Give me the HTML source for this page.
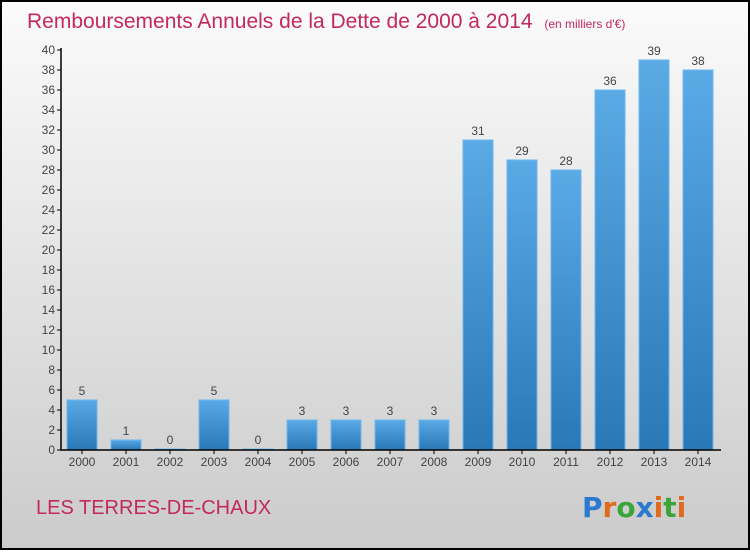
<!DOCTYPE html>
<html><head><meta charset="utf-8">
<style>
html,body{margin:0;padding:0}
body{width:750px;height:550px;overflow:hidden;font-family:"Liberation Sans",sans-serif}
</style></head>
<body>
<svg id="chart" width="750" height="550" xmlns="http://www.w3.org/2000/svg">
<defs>
<linearGradient id="bg" x1="0" y1="0" x2="0" y2="1">
<stop offset="0" stop-color="#fbfbfb"/><stop offset="1" stop-color="#cbcbcb"/>
</linearGradient>
<linearGradient id="bar" x1="0" y1="0" x2="0" y2="1">
<stop offset="0" stop-color="#5aaae6"/><stop offset="1" stop-color="#2a78b6"/>
</linearGradient>
</defs>
<rect x="1" y="1" width="748" height="548" fill="url(#bg)" stroke="#000" stroke-width="2"/>
<text x="27" y="28" font-size="21" fill="#c4285c">Remboursements Annuels de la Dette de 2000 à 2014 <tspan font-size="12" dx="6">(en milliers d'€)</tspan></text>
<text x="36" y="514" font-size="20" fill="#c4285c">LES TERRES-DE-CHAUX</text>
<g font-size="28" font-weight="bold" font-family="'DejaVu Sans',sans-serif">
<text x="582" y="517"><tspan fill="#2a7bd0">P</tspan><tspan fill="#e06a1c">r</tspan><tspan fill="#3aa53a">o</tspan><tspan fill="#2a7bd0">x</tspan><tspan fill="#e06a1c">i</tspan><tspan fill="#3aa53a">t</tspan><tspan fill="#e06a1c">i</tspan></text>
</g>
<g id="plot"></g>
</svg>
<script>
const categories=["2000","2001","2002","2003","2004","2005","2006","2007","2008","2009","2010","2011","2012","2013","2014"];
const values=[5,1,0,5,0,3,3,3,3,31,29,28,36,39,38];
const yTicks=[0,2,4,6,8,10,12,14,16,18,20,22,24,26,28,30,32,34,36,38,40];
const NS="http://www.w3.org/2000/svg";
const g=document.getElementById('plot');
const x0=82,step=44,bw=30,yBase=450,yTop=50,yMax=40;
function xPos(i){return x0+i*step;}
function yPos(v){return yBase-(v/yMax)*(yBase-yTop);}
function mk(tag,attrs,parent){const e=document.createElementNS(NS,tag);for(const k in attrs)e.setAttribute(k,attrs[k]);(parent||g).appendChild(e);return e;}
yTicks.forEach(t=>{
  const y=yPos(t);
  const tk=mk('line',{x1:57,x2:61,y1:y,y2:y,stroke:'#000'});
  
  
  const tx=mk('text',{x:55,y:y+4,'text-anchor':'end','font-size':12,fill:'#444'});
  tx.textContent=t;
  
  
});
categories.forEach((c,i)=>{
  const v=values[i];const cx=xPos(i);
  const top=yPos(v);const h=Math.max(yBase-top,1);
  const r=mk('rect',{x:cx-bw/2,y:yBase-h,width:bw,height:h,fill:'url(#bar)',stroke:'#6bb8ee','stroke-width':1});
  
  
  const vl=mk('text',{x:cx,y:yBase-h-5,'text-anchor':'middle','font-size':12,fill:'#444'});
  vl.textContent=v;
  
  
  const tk=mk('line',{x1:cx,x2:cx,y1:yBase,y2:yBase+4,stroke:'#000'});
  
  
  const xl=mk('text',{x:cx,y:466,'text-anchor':'middle','font-size':12,fill:'#444'});
  xl.textContent=c;
  
  
});
const ya=mk('line',{x1:61,x2:61,y1:yTop-2,y2:yBase,stroke:'#000','stroke-width':1.5});


const xa=mk('line',{x1:60,x2:721,y1:yBase,y2:yBase,stroke:'#000','stroke-width':1.5});


</script>
</body></html>
